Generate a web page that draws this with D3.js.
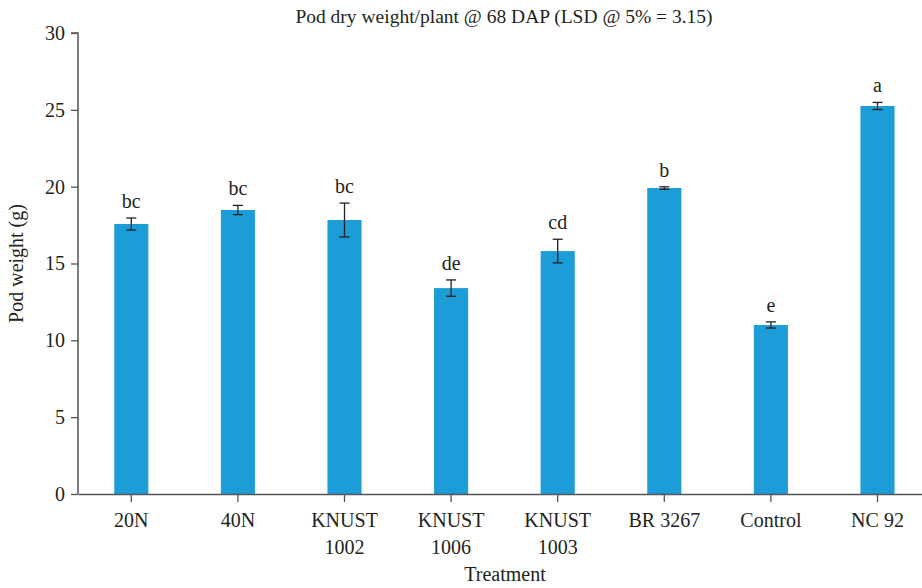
<!DOCTYPE html>
<html>
<head>
<meta charset="utf-8">
<script src="https://cdn.jsdelivr.net/npm/d3@7"></script>
<style>
  body { margin: 0; background: #fff; }
  text { font-family: "Liberation Serif", "DejaVu Serif", serif; fill: #231f20; }
</style>
</head>
<body>
<div id="chart"></div>
<script>
const treatments = ["20N", "40N", "KNUST\n1002", "KNUST\n1006", "KNUST\n1003", "BR 3267", "Control", "NC 92"];
const podWeight = [17.57, 18.48, 17.83, 13.40, 15.81, 19.91, 11.00, 25.25];
const errors = [0.39, 0.30, 1.10, 0.53, 0.77, 0.08, 0.20, 0.23];
const letters = ["bc", "bc", "bc", "de", "cd", "b", "e", "a"];
const yTicks = [0, 5, 10, 15, 20, 25, 30];

const width = 922, height = 588;
const margin = { top: 33, left: 78, bottom: 94 };
const plotBottom = height - margin.bottom;
const fontSize = "20px";

const svg = d3.select("#chart").append("svg")
  .attr("width", width)
  .attr("height", height);

// band scale runs a bit past the right edge, as in the original
const x = d3.scaleBand()
  .domain(treatments)
  .range([margin.left, margin.left + 8 * 106.6])
  .paddingInner(0.68)
  .paddingOuter(0.34);

const y = d3.scaleLinear()
  .domain([0, 30])
  .range([plotBottom, margin.top]);

// bars
svg.selectAll("rect.bar")
  .data(treatments)
  .enter().append("rect")
    .attr("class", "bar")
    .attr("x", d => x(d))
    .attr("y", (d, i) => y(podWeight[i]))
    .attr("width", x.bandwidth())
    .attr("height", (d, i) => plotBottom - y(podWeight[i]))
    .attr("fill", "#1d9dd8");

// error bars
const errG = svg.append("g")
  .attr("stroke", "#231f20")
  .attr("stroke-width", 1.3);

treatments.forEach((d, i) => {
  const cx = x(d) + x.bandwidth() / 2;
  const top = y(podWeight[i] + errors[i]);
  const bot = y(podWeight[i] - errors[i]);
  errG.append("line").attr("x1", cx).attr("x2", cx).attr("y1", top).attr("y2", bot);
  errG.append("line").attr("x1", cx - 5).attr("x2", cx + 5).attr("y1", top).attr("y2", top);
  errG.append("line").attr("x1", cx - 5).attr("x2", cx + 5).attr("y1", bot).attr("y2", bot);
});

// significance letters
svg.selectAll("text.letter")
  .data(treatments)
  .enter().append("text")
    .attr("class", "letter")
    .attr("x", d => x(d) + x.bandwidth() / 2)
    .attr("y", (d, i) => y(podWeight[i] + errors[i]) - 10)
    .attr("text-anchor", "middle")
    .style("font-size", fontSize)
    .text((d, i) => letters[i]);

// y axis
const yAxis = svg.append("g")
  .attr("transform", `translate(${margin.left},0)`)
  .call(d3.axisLeft(y).tickValues(yTicks).tickSize(7).tickPadding(6));

// x axis
const xAxis = svg.append("g")
  .attr("transform", `translate(0,${plotBottom})`)
  .call(d3.axisBottom(x).tickSize(8).tickSizeOuter(0).tickPadding(11));

[yAxis, xAxis].forEach(g => {
  g.select(".domain").attr("stroke", "#555").attr("stroke-width", 1.5);
  g.selectAll(".tick line").attr("stroke", "#555").attr("stroke-width", 1.3);
  g.selectAll(".tick text")
    .style("font-size", fontSize)
    .style("font-family", "'Liberation Serif', serif")
    .attr("fill", "#231f20");
});
yAxis.select(".domain").attr("d", `M-7,${margin.top}H0V${plotBottom}`);

// two-line category labels
xAxis.selectAll(".tick text").each(function(d) {
  const t = d3.select(this);
  const lines = d.split("\n");
  t.text(null);
  lines.forEach((l, k) => {
    t.append("tspan").attr("x", 0).attr("dy", k === 0 ? "0.71em" : "1.35em").text(l);
  });
});

// title
svg.append("text")
  .attr("x", 504)
  .attr("y", 23)
  .attr("text-anchor", "middle")
  .style("font-size", "19.5px")
  .text("Pod dry weight/plant @ 68 DAP (LSD @ 5% = 3.15)");

// axis titles
svg.append("text")
  .attr("x", 505)
  .attr("y", 581)
  .attr("text-anchor", "middle")
  .style("font-size", fontSize)
  .text("Treatment");

svg.append("text")
  .attr("transform", `translate(23,${(margin.top + plotBottom) / 2}) rotate(-90)`)
  .attr("text-anchor", "middle")
  .style("font-size", fontSize)
  .text("Pod weight (g)");
</script>
</body>
</html>
